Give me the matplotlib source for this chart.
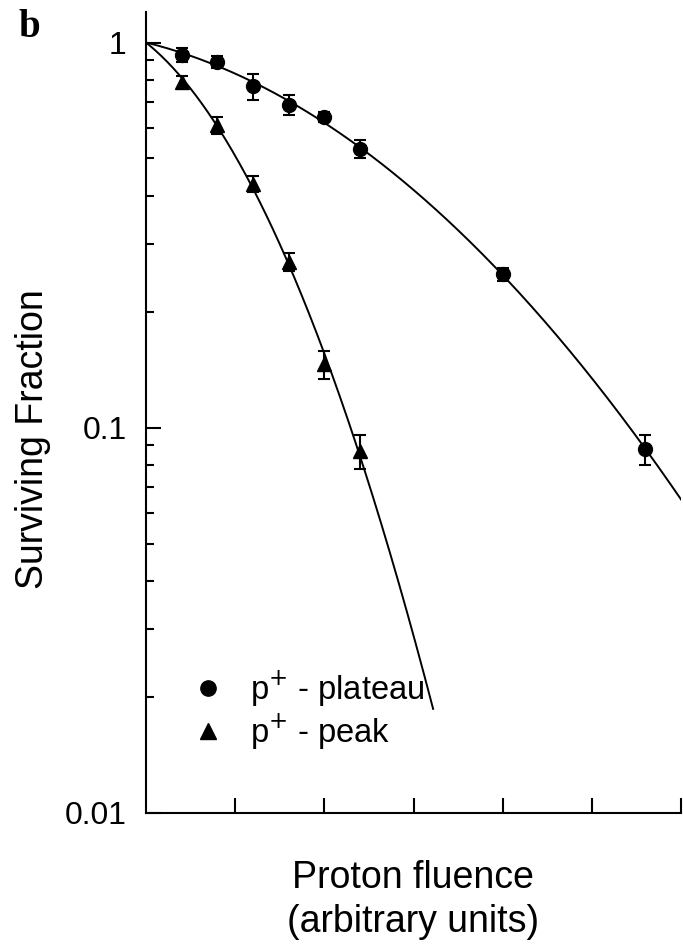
import numpy as np
import matplotlib
matplotlib.use('Agg')
import matplotlib.pyplot as plt
from matplotlib.lines import Line2D
from matplotlib.ticker import LogLocator, NullFormatter

plt.rcParams['font.family'] = ['Liberation Sans', 'DejaVu Sans']

# proton fluence (arbitrary units) and surviving fractions
plateau_dose = [0.4, 0.8, 1.2, 1.6, 2.0, 2.4, 4.0, 5.6]
plateau_sf = [0.93, 0.89, 0.77, 0.69, 0.64, 0.53, 0.25, 0.088]
plateau_err = [0.04, 0.03, 0.06, 0.04, 0.02, 0.03, 0.01, 0.008]

peak_dose = [0.4, 0.8, 1.2, 1.6, 2.0, 2.4]
peak_sf = [0.79, 0.61, 0.43, 0.27, 0.146, 0.087]
peak_err = [0.03, 0.03, 0.02, 0.015, 0.012, 0.009]


def lq_fit(d, s):
    # linear-quadratic fit through the origin: ln S = -a*D - b*D^2
    d = np.asarray(d)
    A = np.column_stack([d, d ** 2])
    coef, *_ = np.linalg.lstsq(A, -np.log(s), rcond=None)
    return coef


fig = plt.figure(figsize=(6.83, 9.44), dpi=100)
ax = fig.add_axes([146 / 683, 1 - 813 / 944, 535 / 683, (813 - 12) / 944])

a1, b1 = lq_fit(plateau_dose, plateau_sf)
a2, b2 = lq_fit(peak_dose, peak_sf)
xx1 = np.linspace(0, 6, 300)
xx2 = np.linspace(0, 3.22, 300)
ax.plot(xx1, np.exp(-a1 * xx1 - b1 * xx1 ** 2), color='black', lw=1.4)
ax.plot(xx2, np.exp(-a2 * xx2 - b2 * xx2 ** 2), color='black', lw=1.4)

ax.errorbar(plateau_dose, plateau_sf, yerr=plateau_err, fmt='o', color='black',
            ms=10, capsize=4, elinewidth=1.5, capthick=1.5)
ax.errorbar(peak_dose, peak_sf, yerr=peak_err, fmt='^', color='black',
            ms=10.5, capsize=4, elinewidth=1.5, capthick=1.5)

ax.set_yscale('log')
ax.set_ylim(0.01, 1.2)
ax.set_xlim(0, 6)
ax.set_xticks([1, 2, 3, 4, 5, 6])
ax.set_xticklabels([])
ax.set_yticks([0.01, 0.1, 1])
ax.set_yticklabels(['0.01', '0.1', '1'])
ax.yaxis.set_minor_locator(LogLocator(base=10, subs=np.arange(2, 10)))
ax.yaxis.set_minor_formatter(NullFormatter())
ax.tick_params(which='major', direction='in', length=11, width=1.5, labelsize=23, pad=14)
ax.tick_params(which='minor', direction='in', length=6, width=1.5)
for s in ['top', 'right']:
    ax.spines[s].set_visible(False)
for s in ['left', 'bottom']:
    ax.spines[s].set_linewidth(1.5)

ax.set_ylabel('Surviving Fraction', fontsize=27)
ax.yaxis.set_label_coords((51 - 146) / 535, (813 - 439) / 801)

# two-line x label, last baseline placed under the axis
fig.text(413 / 683, 1 - 932 / 944, 'Proton fluence\n(arbitrary units)', fontsize=27,
         ha='center', va='baseline', ma='center', linespacing=1.28)

handles = [Line2D([], [], ls='none', marker='o', color='black', ms=11),
           Line2D([], [], ls='none', marker='^', color='black', ms=11)]
ax.legend(handles, ['p$^{+}$ - plateau', 'p$^{+}$ - peak'], loc='lower left',
          bbox_to_anchor=(0.03, 0.04), frameon=False, fontsize=23.5,
          handlelength=1.0, handletextpad=0.8, labelspacing=0.1)

fig.text(18 / 683, 1 - 37 / 944, 'b', fontsize=28, fontweight='bold',
         family='Liberation Serif', va='baseline', ha='left')

fig.savefig('out.png', dpi=100)
